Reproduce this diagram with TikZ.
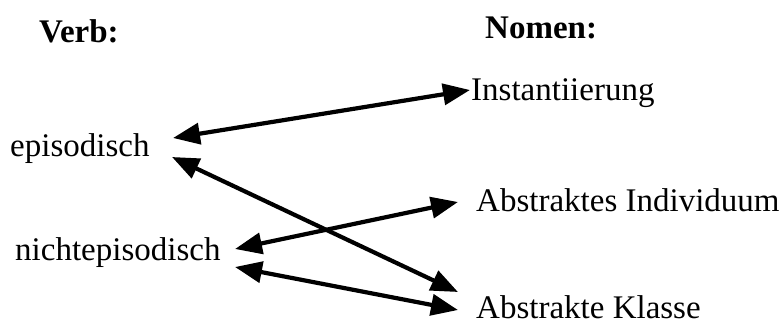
\documentclass[tikz,border=0pt]{standalone}
\usepackage{fontspec}
\setmainfont{Liberation Serif}
\usetikzlibrary{arrows.meta}
\begin{document}
\begin{tikzpicture}[x=1pt,y=-1pt,
  lbl/.style={anchor=base west,inner sep=0pt,font=\fontsize{33}{40}\selectfont},
  head/.style={lbl,font=\fontsize{33}{40}\selectfont\bfseries},
  link/.style={line width=4.2pt,{Triangle[length=27pt,width=21pt]}-{Triangle[length=27pt,width=21pt]}}]
\useasboundingbox[fill=white] (0,0) rectangle (784,329);
\node[head] (verb) at (39,43) {Verb:};
\node[head] (nomen) at (485,38) {Nomen:};
\node[lbl] (epi) at (10,156) {episodisch};
\node[lbl] (nepi) at (15,260) {nichtepisodisch};
\node[lbl] (inst) at (471,100) {Instantiierung};
\node[lbl] (ind) at (476,211) {Abstraktes Individuum};
\node[lbl] (kl) at (476,318) {Abstrakte Klasse};
\coordinate (epiA) at (173,138);
\coordinate (epiB) at (172,157);
\coordinate (nepiA) at (235,249);
\coordinate (nepiB) at (235,267);
\coordinate (instA) at (470,90);
\coordinate (indA) at (458,202);
\coordinate (klA) at (458,292);
\coordinate (klB) at (458,310);
\draw[link] (epiA) -- (instA);
\draw[link] (epiB) -- (klA);
\draw[link] (nepiA) -- (indA);
\draw[link] (nepiB) -- (klB);
\end{tikzpicture}
\end{document}
